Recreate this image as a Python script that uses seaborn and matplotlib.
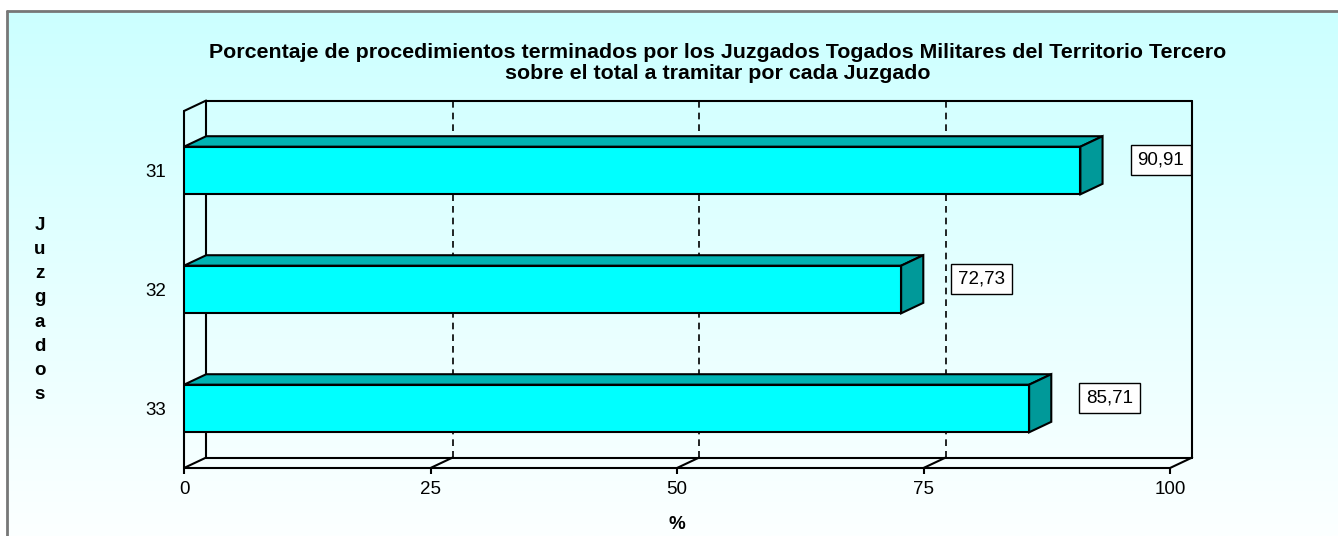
import numpy as np
import pandas as pd
import matplotlib
matplotlib.use("Agg")
import matplotlib.pyplot as plt
from matplotlib.patches import Polygon
from matplotlib.lines import Line2D
import seaborn as sns

# Data
juzgados = ["31", "32", "33"]
porcentajes = [90.91, 72.73, 85.71]
x_ticks = [0, 25, 50, 75, 100]
titulo = ("Porcentaje de procedimientos terminados por los Juzgados Togados Militares del Territorio Tercero\n"
          "sobre el total a tramitar por cada Juzgado")

sns.set_theme(style="white")
plt.rcParams['font.family'] = ['Liberation Sans', 'DejaVu Sans']
plt.rcParams['text.color'] = 'black'
plt.rcParams['axes.labelcolor'] = 'black'
plt.rcParams['xtick.color'] = 'black'
plt.rcParams['ytick.color'] = 'black'

W, H = 1338, 536
fig = plt.figure(figsize=(W / 100, H / 100), dpi=100)
fig.patch.set_facecolor('white')

# Background gradient (light cyan to almost white)
bg = fig.add_axes([7 / W, 0, 1 - 7 / W, 1 - 11 / H], zorder=-10)
grad = np.linspace(0, 1, 256)[:, None, None]
top_c = np.array([0xCC, 0xFF, 0xFF]) / 255
bot_c = np.array([0xFC, 0xFF, 0xFF]) / 255
bg.imshow(top_c + (bot_c - top_c) * grad, aspect='auto', extent=[0, 1, 0, 1])
bg.axis('off')

# Border (top and left)
fig.add_artist(Line2D([7 / W, 7 / W], [0, 1 - 11 / H], color='#777777', lw=2, transform=fig.transFigure))
fig.add_artist(Line2D([7 / W, 1], [1 - 11 / H, 1 - 11 / H], color='#777777', lw=2, transform=fig.transFigure))

# Main axes (front plane)
ax = fig.add_axes([184 / W, 1 - 468 / H, (1170 - 184) / W, (468 - 111) / H])
ax.patch.set_alpha(0)
df = pd.DataFrame({'Juzgado': juzgados, 'Porcentaje': porcentajes})
sns.barplot(data=df, x='Porcentaje', y='Juzgado', orient='h', color='#00FFFF',
            edgecolor='black', linewidth=1.5, width=0.4, saturation=1, ax=ax, zorder=3)
ax.set_xlim(0, 100)
ax.set_ylim(2.5, -0.5)

# 3D depth in data units
DX, DY = 2.25, 0.088
y_top, y_bot = -0.5, 2.5

kw = dict(color='black', lw=1.5, clip_on=False, zorder=1)
# left side wall + floor front edges
ax.plot([0, 0], [y_top, y_bot], **kw)
ax.plot([0, 100], [y_bot, y_bot], **kw)
ax.plot([0, DX], [y_top, y_top - DY], **kw)
# back wall
ax.plot([DX, DX], [y_top - DY, y_bot - DY], **kw)
ax.plot([DX, 100 + DX], [y_top - DY, y_top - DY], **kw)
ax.plot([100 + DX, 100 + DX], [y_top - DY, y_bot - DY], **kw)
ax.plot([DX, 100 + DX], [y_bot - DY, y_bot - DY], **kw)
# floor diagonals and dashed gridlines
for t in x_ticks:
    ax.plot([t, t + DX], [y_bot, y_bot - DY], **kw)
    if 0 < t < 100:
        ax.plot([t + DX, t + DX], [y_top - DY, y_bot - DY], color='black', lw=1.2,
                ls=(0, (4, 3)), clip_on=False, zorder=1)

# 3D faces of bars
for p in list(ax.patches):
    y0 = p.get_y()
    y1 = y0 + p.get_height()
    v = p.get_width()
    top_face = Polygon([(0, y0), (v, y0), (v + DX, y0 - DY), (DX, y0 - DY)], closed=True,
                       facecolor='#00B3B3', edgecolor='black', lw=1.5, clip_on=False, zorder=2)
    side_face = Polygon([(v, y0), (v + DX, y0 - DY), (v + DX, y1 - DY), (v, y1)], closed=True,
                        facecolor='#009999', edgecolor='black', lw=1.5, clip_on=False, zorder=2)
    ax.add_patch(top_face)
    ax.add_patch(side_face)
    ax.annotate(f"{v:.2f}".replace('.', ','), xy=(v + DX, (y0 + y1) / 2 - DY),
                xytext=(42, 0), textcoords='offset points', ha='center', va='center',
                fontsize=13.5, color='black', annotation_clip=False,
                bbox=dict(boxstyle='square,pad=0.36', facecolor='white', edgecolor='black', lw=1))

for s in ax.spines.values():
    s.set_visible(False)
ax.set_xticks(x_ticks)
ax.tick_params(axis='x', bottom=True, direction='out', length=4, width=1.5, color='black',
               labelsize=13.5, pad=5)
ax.tick_params(axis='y', length=0, labelsize=13.5, pad=13)
ax.set_xlabel('%', fontsize=13.5, fontweight='bold', labelpad=13)
ax.set_ylabel('')

fig.text(40 / W, 1 - 310 / H, "\n".join("Juzgados"), ha='center', va='center',
         fontsize=13.5, fontweight='bold', linespacing=1.56)
fig.text(718 / W, 1 - 63 / H, titulo, ha='center', va='center', fontsize=15.4,
         fontweight='bold', linespacing=1.1)

fig.savefig('out.png', dpi=100)
